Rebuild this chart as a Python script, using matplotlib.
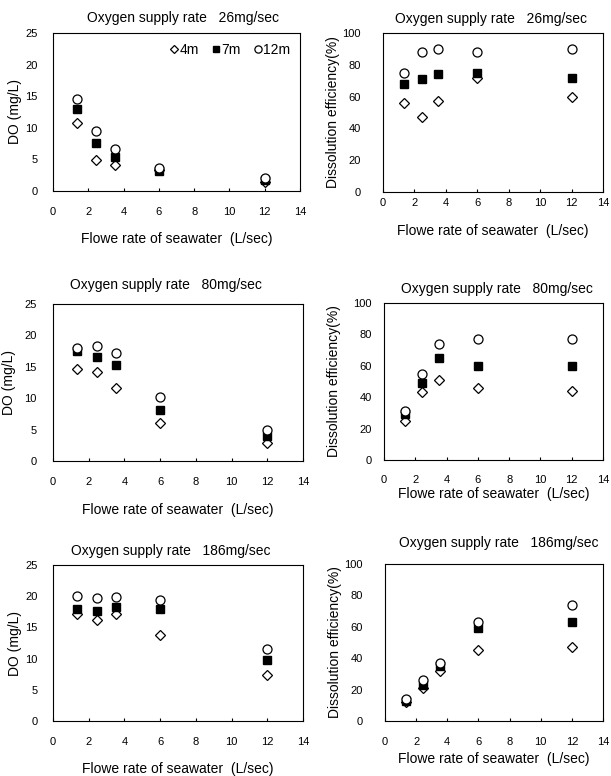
import matplotlib.pyplot as plt

plt.rcParams['font.family'] = ['Liberation Sans', 'DejaVu Sans']

# flow rate of seawater (L/sec)
flow = [1.35, 2.45, 3.5, 6.0, 12.0]

supply_rates = ['26', '80', '186']

# DO (mg/L) for depth 4m, 7m, 12m
do_4m = [[10.8, 4.9, 4.1, 3.3, 1.5],
         [14.7, 14.1, 11.7, 6.0, 2.8],
         [17.2, 16.2, 17.1, 13.8, 7.3]]
do_7m = [[13.0, 7.6, 5.4, 3.1, 1.7],
         [17.5, 16.5, 15.3, 8.1, 4.0],
         [18.0, 17.7, 18.2, 18.0, 9.7]]
do_12m = [[14.5, 9.5, 6.7, 3.6, 2.0],
          [18.0, 18.3, 17.2, 10.2, 5.0],
          [20.0, 19.7, 19.9, 19.4, 11.5]]

# dissolution efficiency (%)
eff_4m = [[56, 47, 57, 72, 60],
          [25, 43, 51, 46, 44],
          [12, 21, 32, 45, 47]]
eff_7m = [[68, 71, 74, 75, 72],
          [29, 49, 65, 60, 60],
          [13, 23, 35, 59, 63]]
eff_12m = [[75, 88, 90, 88, 90],
           [31, 55, 74, 77, 77],
           [14, 26, 37, 63, 74]]

fig = plt.figure(figsize=(6.11, 7.76), dpi=100)

# axes boxes in pixels: left, top, right, bottom
boxes = [[(53, 33, 300, 191), (383, 33, 603, 192)],
         [(53, 304, 303, 461), (384, 303, 603, 460)],
         [(53, 565, 303, 721), (385, 564, 603, 721)]]
# title (x, y) in axes coords, xlabel y, ylabel x, xtick pad, ytick pad
title_pos = [[(0.527, 1.07), (0.49, 1.063)],
             [(0.45, 1.096), (0.515, 1.064)],
             [(0.47, 1.064), (0.52, 1.108)]]
xlab_y = [[-0.259, -0.201], [-0.268, -0.172], [-0.263, -0.199]]
ylab_x = [[-0.125, -0.195], [-0.146, -0.195], [-0.125, -0.195]]
xpad = [[11.5, 4.5], [11.5, 11], [11.5, 11.5]]
ypad = [[11, 16], [12, 9], [11, 16]]

W, H = 611, 776
for r in range(3):
    for c in range(2):
        l, t, rr, b = boxes[r][c]
        ax = fig.add_axes([l / W, 1 - b / H, (rr - l) / W, (b - t) / H])
        if c == 0:
            y4, y7, y12 = do_4m[r], do_7m[r], do_12m[r]
            ax.set_ylim(0, 25)
            ax.set_yticks([0, 5, 10, 15, 20, 25])
            ax.set_ylabel('DO (mg/L)', fontsize=10)
        else:
            y4, y7, y12 = eff_4m[r], eff_7m[r], eff_12m[r]
            ax.set_ylim(0, 100)
            ax.set_yticks([0, 20, 40, 60, 80, 100])
            ax.set_ylabel('Dissolution efficiency(%)', fontsize=10)
        ax.plot(flow, y4, 'D', ms=5, mfc='white', mec='black', mew=0.9, ls='none', label='4m')
        ax.plot(flow, y7, 's', ms=5.5, mfc='black', mec='black', ls='none', label='7m')
        ax.plot(flow, y12, 'o', ms=6.5, mfc='white', mec='black', mew=0.9, ls='none', label='12m')
        ax.set_xlim(0, 14)
        ax.set_xticks(range(0, 15, 2))
        ax.tick_params(axis='x', direction='in', length=2.5, pad=xpad[r][c], labelsize=8)
        ax.tick_params(axis='y', direction='in', length=0, pad=ypad[r][c], labelsize=8)
        for s in ax.spines.values():
            s.set_linewidth(0.8)
        ax.set_xlabel('Flowe rate of seawater  (L/sec)', fontsize=10)
        ax.xaxis.set_label_coords(0.5, xlab_y[r][c])
        ax.yaxis.set_label_coords(ylab_x[r][c], 0.5)
        tx, ty = title_pos[r][c]
        ax.text(tx, ty, 'Oxygen supply rate   ' + supply_rates[r] + 'mg/sec',
                transform=ax.transAxes, ha='center', va='baseline', fontsize=10)
        if r == 0 and c == 0:
            ax.legend(loc='upper right', ncol=3, frameon=False, fontsize=10,
                      handlelength=0.6, handletextpad=0.1, columnspacing=0.9,
                      borderaxespad=0.3, markerscale=0.8)

fig.savefig('out.png', dpi=100)
